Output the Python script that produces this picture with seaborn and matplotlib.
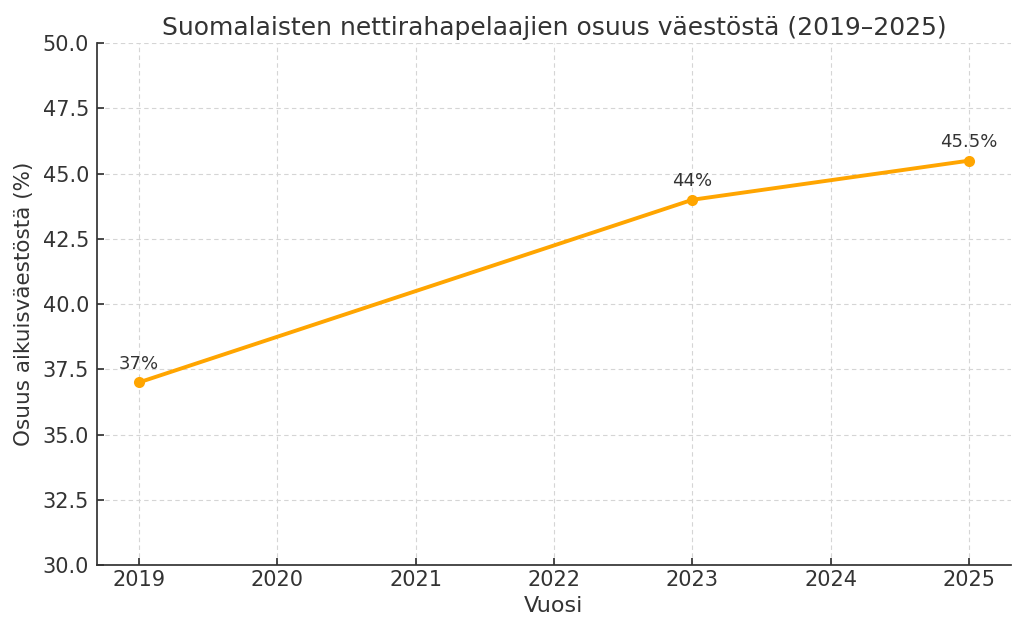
import matplotlib
matplotlib.use("Agg")
import matplotlib.pyplot as plt
import seaborn as sns
import pandas as pd

# data
years = [2019, 2023, 2025]
share = [37.0, 44.0, 45.5]
labels = ["37%", "44%", "45.5%"]
xticks = [2019, 2020, 2021, 2022, 2023, 2024, 2025]

df = pd.DataFrame({"Vuosi": years, "Osuus": share})

sns.set_style("ticks")
plt.rcParams['font.family'] = ['DejaVu Sans']
plt.rcParams['text.color'] = '#333333'
plt.rcParams['axes.labelcolor'] = '#333333'
plt.rcParams['xtick.color'] = '#333333'
plt.rcParams['ytick.color'] = '#333333'
plt.rcParams['axes.edgecolor'] = '#333333'
plt.rcParams['axes.linewidth'] = 1.25
plt.rcParams['xtick.direction'] = 'in'
plt.rcParams['ytick.direction'] = 'in'

fig, ax = plt.subplots(figsize=(10.24, 6.35), dpi=100)
sns.lineplot(data=df, x="Vuosi", y="Osuus", marker="o", color="orange",
             linewidth=2.8, markersize=8, markeredgewidth=0, ax=ax)

for x, y, t in zip(years, share, labels):
    ax.annotate(t, (x, y), textcoords="offset points", xytext=(0, 10),
                ha="center", fontsize=13, color="#333333")

ax.set_xticks(xticks)
ax.set_ylim(30, 50)
ax.set_title("Suomalaisten nettirahapelaajien osuus väestöstä (2019–2025)", fontsize=18)
ax.set_xlabel("Vuosi", fontsize=16)
ax.set_ylabel("Osuus aikuisväestöstä (%)", fontsize=15.5, labelpad=6)
ax.tick_params(labelsize=15, length=5, width=1.25)
ax.tick_params(axis="y", pad=6)
ax.grid(True, linestyle=(0, (4, 3)), color="#d5d5d5", linewidth=0.8)
sns.despine(ax=ax)

plt.subplots_adjust(left=0.095, right=0.987, top=0.932, bottom=0.11)
plt.savefig("out.png", dpi=100)
plt.close()
